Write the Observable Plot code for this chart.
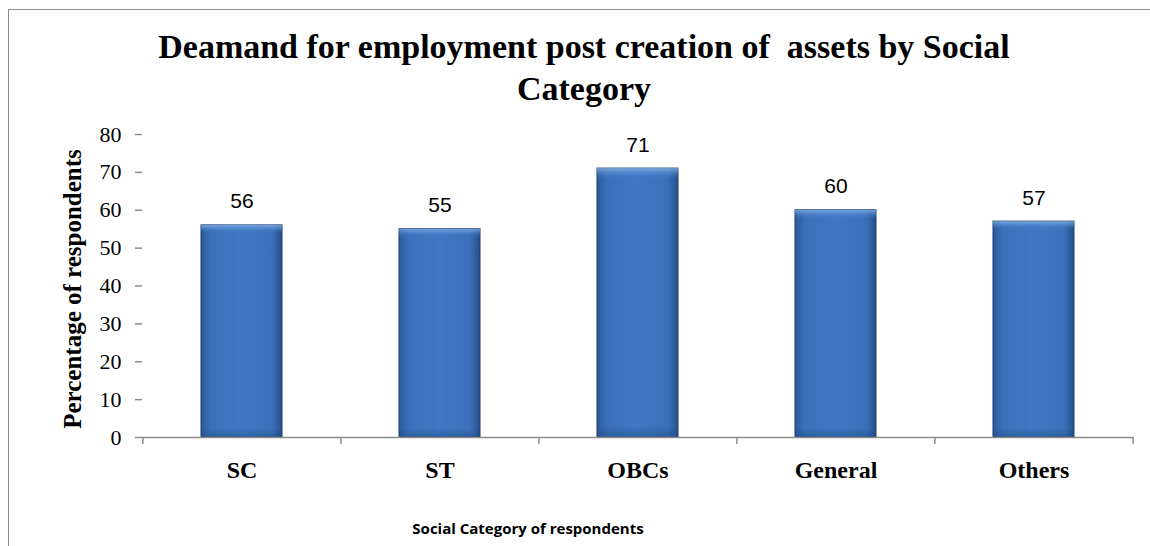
<!DOCTYPE html>
<html>
<head>
<meta charset="utf-8">
<script src="https://cdn.jsdelivr.net/npm/d3@7"></script>
<script src="https://cdn.jsdelivr.net/npm/@observablehq/plot@0.6"></script>
<style>
  html, body { margin: 0; padding: 0; background: #fff; }
  #wrap { position: relative; width: 1150px; height: 546px; overflow: hidden; }
  #frame { position: absolute; left: 8px; top: 9px; width: 1200px; height: 600px;
           border-left: 1.5px solid #8c8c8c; border-top: 1.5px solid #8c8c8c; box-sizing: border-box; }
  #title { position: absolute; left: 0; top: 0; width: 1168px; height: 120px; text-align: center;
           font-family: "Liberation Serif", "DejaVu Serif", serif; font-weight: bold; font-size: 34px;
           line-height: 42px; padding-top: 26px; box-sizing: border-box; color: #000; white-space: pre; }
  #chart { position: absolute; left: 0; top: 120px; }
  #xtitle { position: absolute; left: 0; top: 518px; width: 1056px; text-align: center;
            font-family: "Open Sans", "Liberation Sans", sans-serif; font-weight: bold; font-size: 15px; color: #000; }
</style>
</head>
<body>
<div id="wrap">
  <div id="frame"></div>
  <div id="title"></div>
  <div id="chart"></div>
  <div id="xtitle"></div>
</div>
<script>
const titleLines = ["Deamand for employment post creation of  assets by Social", "Category"];
const yTitle = "Percentage of respondents";
const xTitle = "Social Category of respondents";
const categories = ["SC", "ST", "OBCs", "General", "Others"];
const values = [56, 55, 71, 60, 57];
const yTicks = [0, 10, 20, 30, 40, 50, 60, 70, 80];

document.getElementById("title").textContent = titleLines.join("\n");
document.getElementById("xtitle").textContent = xTitle;

const data = categories.map((c, i) => ({category: c, value: values[i]}));

const W = 1150, H = 380;
const mL = 142, mR = 17, mT = 14, mB = 63;
const step = (W - mL - mR) / categories.length;
const axisGray = "#8c8c8c";
const serif = "'Liberation Serif', 'DejaVu Serif', serif";
const sans = "'Liberation Sans', 'Open Sans', sans-serif";

const chart = Plot.plot({
  width: W,
  height: H,
  marginLeft: mL,
  marginRight: mR,
  marginTop: mT,
  marginBottom: mB,
  style: {background: "transparent", overflow: "visible", fontFamily: serif},
  x: {domain: categories, paddingInner: 0.59, paddingOuter: 0.295, label: null},
  y: {domain: [0, 80], label: null},
  marks: [
    Plot.barY(data, {x: "category", y: "value", fill: "url(#barGrad)", stroke: "#1f3d6b", strokeWidth: 1}),
    Plot.barY(data, {x: "category", y: "value", fill: "url(#barShade)"}),
    Plot.text(data, {x: "category", y: "value", text: d => String(d.value), lineAnchor: "bottom", dy: -17,
      fontFamily: sans, fontSize: 21, fill: "#000"}),
    Plot.ruleY([0], {stroke: axisGray, strokeWidth: 1.5}),
    Plot.ruleX(categories, {x: d => d, y1: 0, y2: 0, insetBottom: -7, dx: -step / 2, stroke: axisGray, strokeWidth: 1.5}),
    Plot.ruleX([categories[categories.length - 1]], {x: d => d, y1: 0, y2: 0, insetBottom: -7, dx: step / 2, stroke: axisGray, strokeWidth: 1.5}),
    Plot.axisY({ticks: yTicks, tickSize: 7, tickFormat: () => "", line: true, stroke: axisGray,
      label: null, strokeWidth: 1.5}),
    Plot.text(yTicks, {y: d => d, text: d => String(d), frameAnchor: "left", textAnchor: "end", dx: -21,
      fontFamily: serif, fontSize: 22, fill: "#000"}),
    Plot.axisX({tickSize: 0, tickPadding: 23, fontSize: 24, fontFamily: serif,
      fontWeight: "bold", fill: "#000", label: null}),
    Plot.text([yTitle], {text: d => d, frameAnchor: "left", textAnchor: "middle", dx: -70, dy: 3, rotate: -90,
      fontFamily: serif, fontSize: 25, fontWeight: "bold", fill: "#000"})
  ]
});

const defs = d3.select(chart).insert("defs", ":first-child");
const g1 = defs.append("linearGradient").attr("id", "barGrad").attr("x1", 0).attr("x2", 1).attr("y1", 0).attr("y2", 0);
[[0, "#2a5a9c"], [0.12, "#3a70b9"], [0.5, "#3f78c3"], [0.88, "#3a70b9"], [1, "#24508d"]]
  .forEach(([o, c]) => g1.append("stop").attr("offset", o).attr("stop-color", c));
const g2 = defs.append("linearGradient").attr("id", "barShade").attr("x1", 0).attr("x2", 0).attr("y1", 0).attr("y2", 1);
[[0, "#8fb8ec", 0.75], [0.015, "#6e9fe0", 0.5], [0.04, "#3f78c3", 0], [0.96, "#1f4a86", 0], [1, "#1f4a86", 0.5]]
  .forEach(([o, c, a]) => g2.append("stop").attr("offset", o).attr("stop-color", c).attr("stop-opacity", a));

document.getElementById("chart").appendChild(chart);
</script>
</body>
</html>
